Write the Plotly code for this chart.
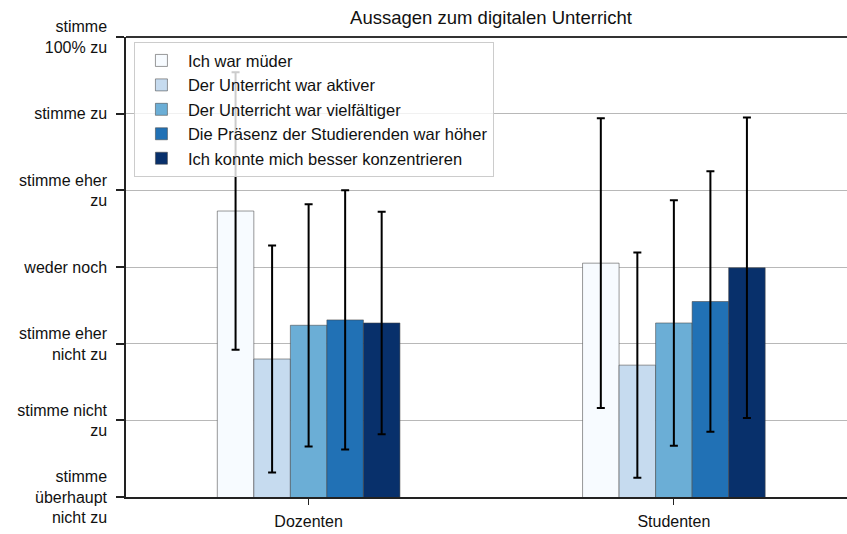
import plotly.graph_objects as go

groups = ["Dozenten", "Studenten"]
series = [
    "Ich war müder",
    "Der Unterricht war aktiver",
    "Der Unterricht war vielfältiger",
    "Die Präsenz der Studierenden war höher",
    "Ich konnte mich besser konzentrieren",
]
means_muede = [4.73, 4.05]
means_aktiver = [2.80, 2.72]
means_vielfaeltiger = [3.24, 3.27]
means_praesenz = [3.31, 3.55]
means_konzentrieren = [3.27, 3.99]
sd_muede = [1.81, 1.89]
sd_aktiver = [1.48, 1.47]
sd_vielfaeltiger = [1.58, 1.60]
sd_praesenz = [1.69, 1.70]
sd_konzentrieren = [1.45, 1.96]

tick_values = [1, 2, 3, 4, 5, 6, 7]
tick_labels = [
    "stimme<br>überhaupt<br>nicht zu",
    "stimme nicht<br>zu",
    "stimme eher<br>nicht zu",
    "weder noch",
    "stimme eher<br>zu",
    "stimme zu",
    "stimme<br>100% zu",
]

colors = ["#f7fbff", "#c6dbef", "#6baed6", "#2171b5", "#08306b"]
all_means = [means_muede, means_aktiver, means_vielfaeltiger, means_praesenz, means_konzentrieren]
all_sds = [sd_muede, sd_aktiver, sd_vielfaeltiger, sd_praesenz, sd_konzentrieren]

FONT = "Arial, Liberation Sans, sans-serif"

fig = go.Figure()
x_pos = list(range(len(groups)))
for name, m, s, c in zip(series, all_means, all_sds, colors):
    fig.add_trace(go.Bar(
        name=name, x=x_pos, y=m,
        marker=dict(color=c, line=dict(color="rgba(70,70,70,0.55)", width=1)),
        error_y=dict(type="data", array=s, visible=True, color="black", thickness=2, width=4),
    ))

fig.add_shape(type="line", xref="paper", yref="paper", x0=0, x1=1, y0=1, y1=1,
              line=dict(color="#333", width=2), layer="above")

fig.update_layout(
    width=847, height=534,
    margin=dict(l=126, r=0, t=37, b=37),
    paper_bgcolor="white", plot_bgcolor="white",
    barmode="group", bargap=0.5, bargroupgap=0,
    font=dict(family=FONT, size=16, color="#111"),
    title=dict(text="Aussagen zum digitalen Unterricht", x=(126 + 856) / 2 / 847, xanchor="center",
               y=1 - 18 / 534, yanchor="middle", font=dict(size=18.5, color="#111")),
    showlegend=True,
    legend=dict(x=0.011, y=0.98 + 4 / 460, xanchor="left", yanchor="top",
                bgcolor="rgba(255,255,255,0.8)", bordercolor="#cccccc", borderwidth=1,
                itemwidth=43, tracegroupgap=0,
                font=dict(size=16.5, color="#111")),
    xaxis=dict(range=[-0.5, 1.474], tickvals=x_pos, ticktext=groups,
               showline=True, linecolor="#222", linewidth=1.5,
               ticks="outside", ticklen=6, tickcolor="#222", tickwidth=1.2,
               ticklabelstandoff=3,
               showgrid=False, zeroline=False),
    yaxis=dict(range=[1, 7], tickvals=tick_values, ticktext=tick_labels,
               showline=True, linecolor="#222", linewidth=1.5,
               ticks="outside", ticklen=8, tickcolor="#222", tickwidth=1.5,
               ticklabelstandoff=6,
               showgrid=True, gridcolor="#b8b8b8", gridwidth=1.3, zeroline=False),
)

fig.write_html("out.html", config={"displayModeBar": False},
               post_script="document.body.style.margin='0';document.body.style.overflow='hidden';")
